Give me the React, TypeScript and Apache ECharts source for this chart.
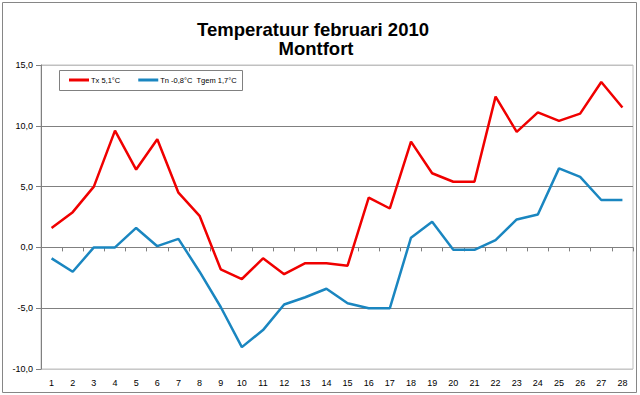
import React, { useEffect, useRef } from "react";
import * as echarts from "echarts";

const days = ["1","2","3","4","5","6","7","8","9","10","11","12","13","14","15","16","17","18","19","20","21","22","23","24","25","26","27","28"];
const tx = [1.6, 2.9, 5.0, 9.6, 6.4, 8.9, 4.5, 2.6, -1.8, -2.6, -0.9, -2.2, -1.3, -1.3, -1.5, 4.1, 3.2, 8.7, 6.1, 5.4, 5.4, 12.4, 9.5, 11.1, 10.4, 11.0, 13.6, 11.5];
const tn = [-0.9, -2.0, 0.0, 0.0, 1.6, 0.1, 0.7, -2.0, -4.9, -8.2, -6.8, -4.7, -4.1, -3.4, -4.6, -5.0, -5.0, 0.8, 2.1, -0.2, -0.2, 0.6, 2.3, 2.7, 6.5, 5.8, 3.9, 3.9];
const seriesNames = ["Tx 5,1°C", "Tn -0,8°C  Tgem 1,7°C"];
const titleLines = ["Temperatuur februari 2010", "Montfort"];

export default function App() {
  const ref = useRef<HTMLDivElement>(null);
  useEffect(() => {
    if (!ref.current) return;
    const chart = echarts.init(ref.current, undefined, { renderer: "svg" });
    const font = "'Liberation Sans', Arial, sans-serif";
    chart.setOption({
      animation: false,
      backgroundColor: "#ffffff",
      textStyle: { fontFamily: font },
      graphic: [
        {
          type: "rect",
          shape: { x: 2.5, y: 2.5, width: 634, height: 390 },
          style: { fill: "none", stroke: "#868686", lineWidth: 1 },
          silent: true,
        },
        {
          type: "rect",
          shape: { x: 59.5, y: 70.5, width: 183, height: 20 },
          style: { fill: "#ffffff", stroke: "#808080", lineWidth: 1 },
          silent: true,
        },
        {
          type: "text",
          x: 313,
          y: 29.5,
          style: {
            text: titleLines[0],
            font: `bold 18.5px ${font}`,
            fill: "#000",
            textAlign: "center",
            textVerticalAlign: "middle",
          },
        },
        {
          type: "text",
          x: 316,
          y: 48.5,
          style: {
            text: titleLines[1],
            font: `bold 18.5px ${font}`,
            fill: "#000",
            textAlign: "center",
            textVerticalAlign: "middle",
          },
        },
      ],
      legend: {
        left: 69,
        top: 76,
        itemWidth: 20,
        itemHeight: 3,
        itemGap: 18,
        icon: "rect",
        padding: 0,
        textStyle: { fontSize: 7.5, color: "#000", fontFamily: font, padding: [0, 0, 0, -3] },
        data: seriesNames,
      },
      grid: {
        left: 41,
        right: 7,
        top: 65,
        bottom: 26,
        show: true,
        borderColor: "#c0c0c0",
        borderWidth: 1,
        backgroundColor: "transparent",
      },
      xAxis: [
        {
          type: "category",
          data: days,
          position: "bottom",
          boundaryGap: true,
          axisLine: { show: false, onZero: false },
          axisTick: { show: false },
          axisLabel: { fontSize: 9, color: "#000", margin: 9, interval: 0, fontFamily: font },
          splitLine: { show: false },
        },
        {
          type: "category",
          data: days,
          position: "top",
          boundaryGap: true,
          axisLine: { show: true, onZero: true, lineStyle: { color: "#808080", width: 1 } },
          axisTick: { show: true, inside: true, length: 4, lineStyle: { color: "#808080" } },
          axisLabel: { show: false },
          splitLine: { show: false },
        },
      ],
      yAxis: {
        type: "value",
        min: -10,
        max: 15,
        interval: 5,
        axisLine: { show: true, lineStyle: { color: "#808080", width: 1 } },
        axisTick: { show: true, length: 5, lineStyle: { color: "#808080" } },
        axisLabel: {
          fontSize: 9,
          color: "#000",
          margin: 8,
          fontFamily: font,
          formatter: (v: number) => v.toFixed(1).replace(".", ","),
        },
        splitLine: {
          show: true,
          lineStyle: {
            color: ["#c8c8c8", "#808080", "#808080", "#808080", "#808080", "#c0c0c0"],
            width: 1,
          },
        },
      },
      series: [
        {
          name: seriesNames[0],
          type: "line",
          xAxisIndex: 0,
          data: tx,
          symbol: "none",
          color: "#f00000",
          lineStyle: { color: "#f00000", width: 2.5 },
        },
        {
          name: seriesNames[1],
          type: "line",
          xAxisIndex: 0,
          data: tn,
          symbol: "none",
          color: "#1a86c0",
          lineStyle: { color: "#1a86c0", width: 2.5 },
        },
      ],
    });
    return () => chart.dispose();
  }, []);
  return (
    <div
      ref={ref}
      style={{ position: "fixed", left: 0, top: 0, width: 640, height: 395, background: "#fff" }}
    />
  );
}
